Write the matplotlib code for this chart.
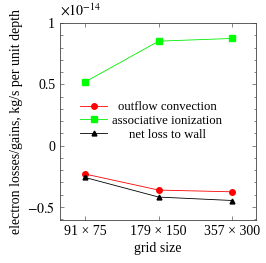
import numpy as np
import matplotlib
matplotlib.use('Agg')
from matplotlib import pyplot as plt
from matplotlib.ticker import MultipleLocator

# data (units of 1e-14 kg/s per unit depth)
grids = ['91 × 75', '179 × 150', '357 × 300']
outflow = [-0.232, -0.363, -0.377]
assoc = [0.519, 0.852, 0.874]
wall = [-0.26, -0.42, -0.448]

plt.rcParams['font.family'] = ['Liberation Serif', 'DejaVu Serif']
plt.rcParams['mathtext.fontset'] = 'stix'

fig = plt.figure(figsize=(2.66, 2.63), dpi=100)
ax = fig.add_axes([60/266, 1 - 220/263, 196/266, 197/263])

x = np.arange(len(grids))
ax.plot(x, outflow, color='#ff0000', lw=0.6, marker='o', ms=4, label='outflow convection')
ax.plot(x, assoc, color='#00ee00', lw=0.6, marker='s', ms=4, markerfacecolor='#00ff00', markeredgecolor='#00ff00', label='associative ionization')
ax.plot(x, wall, color='black', lw=0.6, marker='^', ms=3.5, label='net loss to wall')

ax.set_xlim(-0.34, 2.32)
ax.set_ylim(-0.607, 1.0)
ax.set_xticks(x)
ax.set_xticklabels(grids, fontsize=10)
ax.yaxis.set_major_locator(MultipleLocator(0.5))
ax.yaxis.set_minor_locator(MultipleLocator(0.1))
ax.set_yticks([-0.5, 0, 0.5, 1])
ax.set_yticklabels(['$-0.5$', '0', '0.5', '1'], fontsize=10)
ax.tick_params(direction='in', top=True, right=True, length=3, width=0.5, color='#555555')
ax.tick_params(which='minor', direction='in', right=True, length=1.8, width=0.5, color='#555555')
for s in ax.spines.values():
    s.set_linewidth(0.6)
    s.set_color('#444444')

ax.set_xlabel('grid size', fontsize=10, labelpad=3)
ax.set_ylabel('electron losses/gains, kg/s per unit depth', fontsize=10, labelpad=3)
ax.text(0.0, 1.02, '$\\times10^{-14}$', transform=ax.transAxes, fontsize=10, va='bottom', ha='left')

leg = ax.legend(loc='center', bbox_to_anchor=(0.465, 0.503), frameon=False, fontsize=9.2,
                handlelength=2.1, handletextpad=0.4, labelspacing=0.15)

# centre the legend labels
renderer = fig.canvas.get_renderer()
widths = [t.get_window_extent(renderer).width for t in leg.get_texts()]
w = max(widths)
for t, wi in zip(leg.get_texts(), widths):
    t.set_position(((w - wi) / 2, 0))

fig.savefig('out.png', dpi=100)
